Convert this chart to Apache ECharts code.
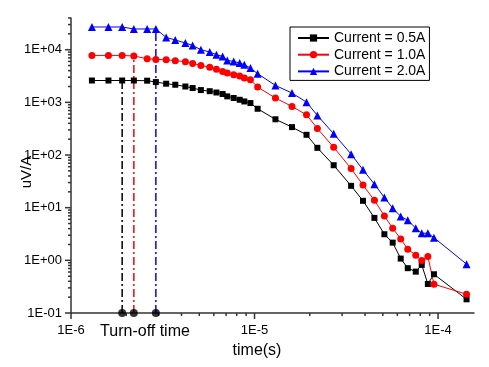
<!DOCTYPE html>
<html>
<head>
<meta charset="utf-8">
<title>uV/A decay vs time</title>
<script src="https://cdn.jsdelivr.net/npm/echarts@6/dist/echarts.min.js"></script>
<style>
    html, body { margin: 0; padding: 0; background: #fff; }
    #main { width: 489px; height: 367px; }
</style>
</head>
<body>
<div id="main"></div>
<script type="text/javascript">
    // sample times (s), shared by the three curves
    var times = [1.3e-6, 1.6e-6, 1.9e-6, 2.2e-6, 2.6e-6, 2.9e-6, 3.3e-6, 3.7e-6, 4.2e-6, 4.6e-6,
        5.1e-6, 5.7e-6, 6.2e-6, 6.7e-6, 7.1e-6, 7.7e-6, 8.3e-6, 8.8e-6, 9.5e-6, 1.04e-5,
        1.3e-5, 1.6e-5, 1.92e-5, 2.2e-5, 2.7e-5, 3.36e-5, 3.9e-5, 4.5e-5, 5.1e-5, 5.66e-5,
        6.26e-5, 6.84e-5, 7.56e-5, 8.15e-5, 8.8e-5, 9.5e-5, 1.43e-4];

    var current05 = [2600, 2600, 2600, 2600, 2580, 2430, 2260, 2160, 2000, 1870,
        1710, 1630, 1540, 1440, 1300, 1210, 1120, 1040, 970, 756,
        477, 339, 242, 137, 64, 26, 13.5, 6.4, 3.13, 2.17,
        1.08, 0.71, 0.61, 0.82, 0.356, 0.544, 0.182];

    var current10 = [7790, 7790, 7790, 7590, 6740, 6540, 6450, 6180, 5910, 5490,
        5030, 4650, 4260, 3870, 3600, 3350, 3160, 2900, 2690, 1950,
        1210, 836, 581, 319, 140, 55.4, 26.9, 13.8, 6.98, 4.08,
        2.55, 1.63, 1.25, 0.99, 1.18, 0.353, 0.227];

    var current20 = [27000, 27000, 27000, 24750, 24750, 24750, 17130, 15290, 13400, 12070,
        10000, 9040, 8030, 7460, 6260, 5990, 5590, 5185, 4490, 3500,
        2100, 1500, 1010, 564, 253, 104, 52.3, 28, 15.6, 9.78,
        6.83, 5.79, 4.08, 3.27, 3.27, 2.7, 0.847];

    var seriesNames = ['Current = 0.5A', 'Current = 1.0A', 'Current = 2.0A'];
    // index into times where each curve is switched off
    var turnOffIndex = [2, 3, 5];

    // axis ranges and tick values
    var xMin = 1e-6, xMax = 1.57e-4;
    var yMin = 0.1, yMax = 40000;
    var xMajorTicks = [1e-6, 1e-5, 1e-4];
    var yMajorTicks = [0.1, 1, 10, 100, 1000, 10000];

    var axisColor = '#333';
    var fontFamily = 'Arial, "Liberation Sans", sans-serif';

    function minorTicks(majors, max) {
        var out = [];
        for (var i = 0; i < majors.length; i++) {
            for (var k = 2; k <= 9; k++) {
                var v = majors[i] * k;
                if (v <= max * 1.0001) out.push(v);
            }
        }
        return out;
    }

    function pairs(xs, ys) {
        var out = [];
        for (var i = 0; i < xs.length; i++) out.push([xs[i], ys[i]]);
        return out;
    }

    var xTickData = xMajorTicks.map(function (v) { return [v, 6]; })
        .concat(minorTicks(xMajorTicks, xMax).map(function (v) { return [v, 3]; }));
    var yTickData = yMajorTicks.map(function (v) { return [v, 6]; })
        .concat(minorTicks(yMajorTicks, yMax).map(function (v) { return [v, 3]; }));

    function xTick(params, api) {
        var p = api.coord([api.value(0), yMin]);
        var len = api.value(1);
        return {
            type: 'line',
            shape: { x1: p[0], y1: p[1], x2: p[0], y2: p[1] + len },
            style: { stroke: axisColor, lineWidth: 1.5 }
        };
    }

    function yTick(params, api) {
        var p = api.coord([xMin, api.value(0)]);
        var len = api.value(1);
        return {
            type: 'line',
            shape: { x1: p[0] - len, y1: p[1], x2: p[0], y2: p[1] },
            style: { stroke: axisColor, lineWidth: 1.5 }
        };
    }

    function xLabel(v) {
        return '1E' + Math.round(Math.log10(v));
    }

    function yLabel(v) {
        var e = Math.round(Math.log10(v));
        var a = Math.abs(e);
        return '1E' + (e < 0 ? '-' : '+') + (a < 10 ? '0' + a : a);
    }

    var colors = ['#000000', '#ff0000', '#0000ff'];
    var symbols = ['rect', 'circle', 'triangle'];
    var sizes = [6, 7, 8];
    var curves = [current05, current10, current20];

    var series = [];
    // dash-dot turn-off markers, under the curves
    for (var i = 0; i < 3; i++) {
        var t = times[turnOffIndex[i]];
        series.push({
            name: 'turnoff' + i,
            type: 'line',
            data: [[t, yMin], [t, curves[i][turnOffIndex[i]]]],
            symbol: 'none',
            lineStyle: { color: colors[i], width: 1.5, type: [8, 3, 2, 3] },
            silent: true,
            z: 1
        });
    }
    for (var j = 0; j < 3; j++) {
        series.push({
            name: seriesNames[j],
            type: 'line',
            data: pairs(times, curves[j]),
            symbol: symbols[j],
            symbolSize: sizes[j],
            itemStyle: { color: colors[j] },
            lineStyle: { color: colors[j], width: 1 },
            z: 3
        });
    }
    series.push({
        name: 'turnoffDots',
        type: 'scatter',
        data: turnOffIndex.map(function (k) { return [times[k], yMin]; }),
        symbol: 'circle',
        symbolSize: 8,
        itemStyle: { color: '#000' },
        clip: false,
        silent: true,
        z: 5
    });
    series.push({ type: 'custom', renderItem: xTick, data: xTickData, silent: true, z: 4 });
    series.push({ type: 'custom', renderItem: yTick, data: yTickData, silent: true, z: 4 });

    var myChart = echarts.init(document.getElementById('main'));
    var option = {
        animation: false,
        backgroundColor: '#fff',
        textStyle: { fontFamily: fontFamily },
        grid: { left: 71, right: 15, top: 18, bottom: 54, containLabel: false, outerBoundsMode: 'none' },
        legend: {
            data: seriesNames,
            orient: 'vertical',
            left: 290,
            top: 27,
            padding: [3, 4, 1, 7],
            borderColor: '#000',
            borderWidth: 1,
            itemWidth: 31,
            itemHeight: 9,
            itemGap: 0.7,
            textStyle: { fontSize: 14, color: '#000', lineHeight: 16, fontFamily: fontFamily }
        },
        xAxis: {
            type: 'log',
            min: xMin,
            max: xMax,
            splitLine: { show: false },
            axisTick: { show: false },
            axisLine: { show: true, lineStyle: { color: axisColor, width: 1.5 } },
            axisLabel: {
                fontSize: 13, color: '#000', margin: 11,
                showMinLabel: true, showMaxLabel: false,
                formatter: xLabel
            }
        },
        yAxis: {
            type: 'log',
            min: yMin,
            max: yMax,
            splitLine: { show: false },
            axisTick: { show: false },
            axisLine: { show: true, lineStyle: { color: axisColor, width: 1.5 } },
            axisLabel: {
                fontSize: 13, color: '#000', margin: 9,
                showMinLabel: true, showMaxLabel: false,
                formatter: yLabel
            }
        },
        graphic: [
            {
                type: 'text', x: 145, y: 332,
                style: { text: 'Turn-off time', fontSize: 16, fill: '#000', fontFamily: fontFamily,
                    textAlign: 'center', textVerticalAlign: 'middle' }
            },
            {
                type: 'text', x: 257, y: 351,
                style: { text: 'time(s)', fontSize: 16, fill: '#000', fontFamily: fontFamily,
                    textAlign: 'center', textVerticalAlign: 'middle' }
            },
            {
                type: 'text', x: 27, y: 172, rotation: Math.PI / 2,
                style: { text: 'uV/A', fontSize: 15, fill: '#000', fontFamily: fontFamily,
                    textAlign: 'center', textVerticalAlign: 'middle' }
            }
        ],
        series: series
    };
    myChart.setOption(option);
</script>
</body>
</html>
